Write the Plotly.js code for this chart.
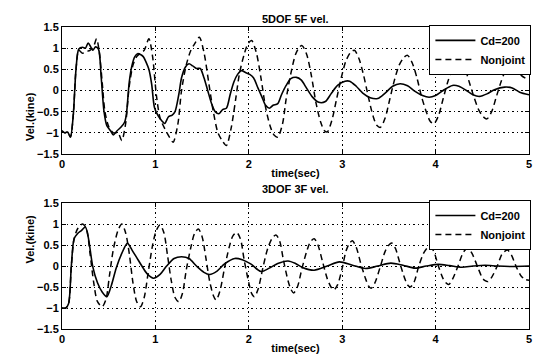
<!DOCTYPE html>
<html>
<head>
<meta charset="utf-8">
<script src="https://cdn.plot.ly/plotly-3.0.1.min.js"></script>
<style>html,body{margin:0;padding:0;background:#fff;}#chart{width:538px;height:362px;}</style>
</head>
<body>
<div id="chart"></div>
<script>
// ---- Top panel: 5DOF 5F vel. ----
const topCdT = [0.00,0.03,0.06,0.09,0.12,0.15,0.18,0.22,0.25,0.28,0.31,0.33,0.36,0.39,0.42,0.45,0.48,0.52,0.55,0.59,0.63,0.67,0.69,0.72,0.75,0.78,0.81,0.84,0.87,0.90,0.93,0.96,0.99,1.03,1.07,1.10,1.14,1.18,1.21,1.25,1.28,1.32,1.36,1.40,1.44,1.48,1.52,1.56,1.60,1.64,1.68,1.72,1.76,1.80,1.84,1.88,1.92,1.97,2.01,2.05,2.10,2.14,2.18,2.22,2.26,2.31,2.35,2.40,2.45,2.51,2.56,2.62,2.68,2.75,2.82,2.88,2.95,3.03,3.08,3.15,3.22,3.30,3.38,3.46,3.54,3.62,3.70,3.78,3.86,3.93,4.00,4.08,4.18,4.25,4.33,4.40,4.47,4.55,4.63,4.74,4.82,4.90,5.00];
const topCdV = [-0.95,-1.0,-0.98,-1.1,-0.6,0.5,0.98,1.02,1.0,1.12,1.02,0.95,1.03,0.98,0.3,-0.5,-0.83,-0.95,-1.05,-0.95,-0.87,-0.75,-0.55,0.2,0.6,0.8,0.87,0.85,0.8,0.67,0.5,0.15,-0.4,-0.6,-0.72,-0.78,-0.62,-0.58,-0.5,-0.1,0.3,0.55,0.63,0.58,0.52,0.52,0.3,0.0,-0.3,-0.5,-0.55,-0.45,-0.42,-0.1,0.2,0.38,0.47,0.42,0.38,0.3,0.05,-0.15,-0.35,-0.42,-0.35,-0.31,-0.1,0.12,0.28,0.31,0.25,0.05,-0.15,-0.28,-0.26,-0.08,0.12,0.22,0.22,0.1,-0.06,-0.17,-0.19,-0.06,0.1,0.16,0.11,-0.02,-0.12,-0.16,-0.12,0.0,0.12,0.1,0.0,-0.1,-0.14,-0.08,0.02,0.08,0.06,-0.04,-0.1];
const topNjT = [0.00,0.03,0.06,0.09,0.12,0.15,0.18,0.22,0.26,0.30,0.34,0.37,0.40,0.43,0.46,0.50,0.55,0.60,0.64,0.68,0.72,0.76,0.80,0.84,0.88,0.93,0.97,1.01,1.05,1.10,1.15,1.19,1.24,1.28,1.33,1.38,1.42,1.47,1.52,1.57,1.62,1.67,1.72,1.76,1.81,1.86,1.90,1.95,1.99,2.03,2.08,2.13,2.18,2.23,2.27,2.31,2.36,2.40,2.45,2.50,2.54,2.57,2.62,2.67,2.72,2.77,2.81,2.84,2.89,2.94,2.99,3.04,3.09,3.13,3.18,3.23,3.28,3.33,3.37,3.41,3.46,3.51,3.56,3.61,3.66,3.70,3.75,3.80,3.85,3.90,3.94,3.98,4.03,4.08,4.13,4.18,4.22,4.26,4.31,4.36,4.41,4.46,4.51,4.55,4.60,4.65,4.70,4.75,4.79,4.82,4.87,4.92,5.00];
const topNjV = [-0.95,-1.0,-0.98,-1.1,-0.6,0.5,0.95,0.88,0.92,0.95,1.05,1.22,0.9,0.2,-0.5,-0.85,-1.0,-1.0,-1.18,-0.8,0.1,0.6,0.8,0.88,0.95,1.22,0.8,-0.1,-0.65,-0.9,-1.1,-1.22,-0.8,0.0,0.6,0.95,1.1,1.26,0.9,0.2,-0.5,-1.0,-1.2,-1.3,-0.9,-0.2,0.4,0.85,1.1,1.18,0.9,0.3,-0.4,-0.85,-1.05,-1.1,-0.8,-0.2,0.4,0.85,1.02,1.06,0.85,0.35,-0.3,-0.75,-0.95,-0.98,-0.7,-0.2,0.3,0.7,0.9,0.95,0.75,0.35,-0.15,-0.6,-0.82,-0.87,-0.65,-0.2,0.25,0.6,0.78,0.83,0.65,0.3,-0.15,-0.5,-0.72,-0.79,-0.6,-0.2,0.2,0.5,0.66,0.71,0.55,0.2,-0.15,-0.45,-0.62,-0.67,-0.5,-0.15,0.2,0.48,0.6,0.63,0.5,0.35,0.25];

// ---- Bottom panel: 3DOF 3F vel. ----
const botCdT = [0.00,0.04,0.07,0.10,0.13,0.17,0.21,0.25,0.28,0.33,0.38,0.43,0.48,0.53,0.58,0.64,0.70,0.75,0.80,0.85,0.91,0.98,1.05,1.12,1.20,1.28,1.36,1.44,1.52,1.58,1.66,1.74,1.85,1.93,2.02,2.13,2.22,2.31,2.42,2.50,2.58,2.70,2.84,2.97,3.11,3.25,3.38,3.52,3.65,3.78,3.90,4.03,4.15,4.28,4.40,4.53,4.66,4.80,5.00];
const botCdV = [-1.0,-1.0,-0.9,0.0,0.65,0.78,0.85,0.93,0.7,-0.02,-0.4,-0.62,-0.73,-0.45,-0.05,0.3,0.54,0.38,0.2,0.02,-0.18,-0.29,-0.2,0.0,0.18,0.22,0.18,0.0,-0.15,-0.2,-0.12,0.05,0.18,0.15,0.05,-0.13,-0.05,0.06,0.12,0.06,-0.04,-0.1,0.0,0.1,0.02,-0.06,0.0,0.07,0.02,-0.05,0.0,0.04,0.01,-0.03,0.0,0.02,0.0,-0.01,0.0];
const botNjT = [0.00,0.04,0.07,0.10,0.13,0.17,0.22,0.26,0.30,0.34,0.38,0.43,0.47,0.51,0.55,0.60,0.64,0.68,0.72,0.76,0.80,0.84,0.88,0.92,0.97,1.01,1.05,1.09,1.13,1.17,1.21,1.25,1.29,1.33,1.38,1.42,1.46,1.50,1.54,1.58,1.62,1.65,1.69,1.74,1.79,1.83,1.87,1.91,1.95,2.00,2.03,2.06,2.10,2.15,2.20,2.25,2.29,2.33,2.37,2.42,2.45,2.48,2.52,2.57,2.62,2.66,2.70,2.74,2.79,2.84,2.88,2.91,2.95,3.00,3.04,3.08,3.11,3.15,3.20,3.25,3.28,3.31,3.35,3.41,3.46,3.50,3.53,3.57,3.62,3.67,3.70,3.73,3.77,3.82,3.87,3.91,3.94,3.98,4.03,4.08,4.11,4.14,4.18,4.24,4.29,4.32,4.35,4.39,4.45,4.50,4.53,4.56,4.60,4.66,4.71,4.74,4.77,4.81,4.87,4.92,4.96,5.00];
const botNjV = [-1.0,-1.0,-0.9,0.0,0.65,0.9,1.0,0.9,0.3,-0.4,-0.85,-0.97,-0.8,-0.2,0.4,0.85,1.0,0.8,0.3,-0.4,-0.85,-0.97,-0.75,-0.2,0.5,0.85,0.98,0.8,0.25,-0.35,-0.75,-0.85,-0.65,-0.1,0.45,0.78,0.88,0.7,0.2,-0.35,-0.7,-0.81,-0.6,-0.05,0.45,0.72,0.8,0.65,0.15,-0.4,-0.65,-0.73,-0.55,-0.05,0.4,0.66,0.74,0.6,0.15,-0.35,-0.55,-0.64,-0.5,-0.05,0.35,0.58,0.65,0.5,0.1,-0.3,-0.5,-0.57,-0.45,-0.05,0.35,0.55,0.6,0.45,0.05,-0.3,-0.47,-0.53,-0.4,0.0,0.35,0.5,0.55,0.42,0.05,-0.3,-0.45,-0.5,-0.38,0.0,0.3,0.43,0.47,0.35,0.0,-0.3,-0.4,-0.44,-0.32,0.0,0.3,0.39,0.42,0.3,-0.02,-0.28,-0.35,-0.37,-0.27,0.0,0.28,0.35,0.38,0.27,-0.05,-0.25,-0.32,-0.34];

const seriesNames = ['Cd=200', 'Nonjoint'];
const panelTitles = ['5DOF 5F vel.', '3DOF 3F vel.'];
const yTitle = 'Vel.(kine)';
const xTitle = 'time(sec)';
const xTicks = [0, 1, 2, 3, 4, 5];
const yTicks = [-1.5, -1, -0.5, 0, 0.5, 1, 1.5];
const yTickText = ['\u22121.5', '\u22121', '\u22120.5', '0', '0.5', '1', '1.5'];

const FONT = 'Liberation Sans, Arial, sans-serif';
const TXT = {family: FONT, size: 11, color: '#000', weight: 'bold'};
const solid = {color: '#000', width: 1.6, shape: 'spline', smoothing: 0.8};
const dashed = {color: '#000', width: 1.5, dash: '6px,4px', shape: 'spline', smoothing: 0.8};

const data = [
  {x: topCdT, y: topCdV, name: seriesNames[0], mode: 'lines', line: solid, xaxis: 'x', yaxis: 'y', legend: 'legend'},
  {x: topNjT, y: topNjV, name: seriesNames[1], mode: 'lines', line: dashed, xaxis: 'x', yaxis: 'y', legend: 'legend'},
  {x: botCdT, y: botCdV, name: seriesNames[0], mode: 'lines', line: solid, xaxis: 'x2', yaxis: 'y2', legend: 'legend2'},
  {x: botNjT, y: botNjV, name: seriesNames[1], mode: 'lines', line: dashed, xaxis: 'x2', yaxis: 'y2', legend: 'legend2'}
];

function xa(anchor) {
  return {
    anchor: anchor, domain: [0, 1], range: [0, 5], tickvals: xTicks,
    ticks: 'inside', ticklen: 4, tickcolor: '#000',
    showline: true, linecolor: '#000', linewidth: 1, mirror: 'ticks',
    showgrid: true, gridcolor: '#000', gridwidth: 1, griddash: '1.5px,3px',
    zeroline: false, fixedrange: true,
    tickfont: TXT,
    title: {text: xTitle, font: TXT, standoff: 0}
  };
}
function ya(anchor, dom) {
  return {
    anchor: anchor, domain: dom, range: [-1.5, 1.5], tickvals: yTicks, ticktext: yTickText,
    ticks: 'inside', ticklen: 4, tickcolor: '#000',
    showline: true, linecolor: '#000', linewidth: 1, mirror: 'ticks',
    showgrid: true, gridcolor: '#000', gridwidth: 1, griddash: '1.5px,3px',
    zeroline: false, fixedrange: true,
    tickfont: TXT
  };
}
const legStyle = {
  bgcolor: '#fff', bordercolor: '#000', borderwidth: 1,
  font: TXT,
  xanchor: 'right', yanchor: 'top', tracegroupgap: 0, itemwidth: 40
};

const topDom = [0.5795, 1], botDom = [0, 0.417];
const layout = {
  width: 538, height: 362,
  margin: {l: 62, r: 8, t: 27, b: 33},
  paper_bgcolor: '#fff', plot_bgcolor: '#fff',
  showlegend: true,
  xaxis: xa('y'), yaxis: ya('x', topDom),
  xaxis2: xa('y2'), yaxis2: ya('x2', botDom),
  legend: Object.assign({x: 1.003, y: 1.007}, legStyle),
  legend2: Object.assign({x: 1.003, y: 0.427}, legStyle),
  annotations: [
    {text: panelTitles[0], xref: 'paper', yref: 'paper', x: 0.5, y: topDom[1], yshift: 16, showarrow: false, font: TXT},
    {text: panelTitles[1], xref: 'paper', yref: 'paper', x: 0.5, y: botDom[1], yshift: 14, showarrow: false, font: TXT},
    {text: yTitle, xref: 'paper', yref: 'paper', x: 0, xshift: -40, y: (topDom[0] + topDom[1]) / 2, textangle: -90, showarrow: false, font: TXT},
    {text: yTitle, xref: 'paper', yref: 'paper', x: 0, xshift: -40, y: (botDom[0] + botDom[1]) / 2, textangle: -90, showarrow: false, font: TXT}
  ]
};

Plotly.newPlot('chart', data, layout, {displayModeBar: false, staticPlot: true});
</script>
</body>
</html>
